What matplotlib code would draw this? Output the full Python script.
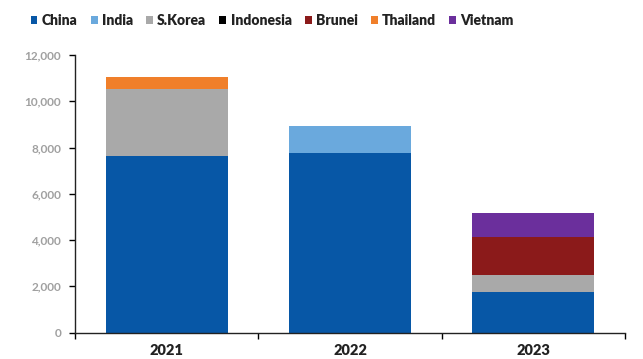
import numpy as np
import matplotlib.pyplot as plt

# LNG import volumes by source country
years = ["2021", "2022", "2023"]
countries = ["China", "India", "S.Korea", "Indonesia", "Brunei", "Thailand", "Vietnam"]
china = [7630, 7750, 1760]
india = [0, 1190, 0]
skorea = [2890, 0, 720]
indonesia = [0, 0, 0]
brunei = [0, 0, 1660]
thailand = [520, 0, 0]
vietnam = [0, 0, 1010]
yticks = [0, 2000, 4000, 6000, 8000, 10000, 12000]
ytick_labels = ["0", "2,000", "4,000", "6,000", "8,000", "10,000", "12,000"]

series = [china, india, skorea, indonesia, brunei, thailand, vietnam]
colors = ["#0757a6", "#6aa9dd", "#a9a9a9", "#000000", "#8b1a1a", "#f07f2a", "#6b2f9c"]

plt.rcParams["font.family"] = ["Lato", "DejaVu Sans"]

fig = plt.figure(figsize=(6.43, 3.59), dpi=100)
ax = fig.add_axes([0.1166, 0.0738, 0.8554, 0.773])

x = np.arange(len(years))
bottom = np.zeros(len(years))
for name, vals, c in zip(countries, series, colors):
    ax.bar(x, vals, width=0.667, bottom=bottom, color=c, label=name)
    bottom += np.array(vals)

ax.set_xlim(-0.5, 2.5)
ax.set_ylim(0, 12000)
ax.set_yticks(yticks)
ax.set_yticklabels(ytick_labels, color="#a0a0a0", fontsize=8.5, fontweight="bold")
ax.set_xticks(x)
ax.set_xticklabels(years, fontsize=10.5, fontweight="heavy", color="#222222")
ax.set_xticks([-0.5, 0.5, 1.5, 2.5], minor=True)
ax.tick_params(axis="x", which="major", length=0, pad=8)
ax.tick_params(axis="x", which="minor", direction="out", length=4, width=1)
ax.tick_params(axis="y", direction="out", length=4, width=1, pad=6)

for s in ["top", "right"]:
    ax.spines[s].set_visible(False)
for s in ["left", "bottom"]:
    ax.spines[s].set_linewidth(1)
    ax.spines[s].set_color("#222222")

fig.legend(loc="upper left", bbox_to_anchor=(0.028, 0.997), ncol=7, frameon=False,
           handlelength=0.5, handleheight=0.5, handletextpad=0.3,
           columnspacing=0.95, prop={"weight": "heavy", "size": 10},
           labelcolor="#222222")

fig.savefig("out.png", dpi=100)
